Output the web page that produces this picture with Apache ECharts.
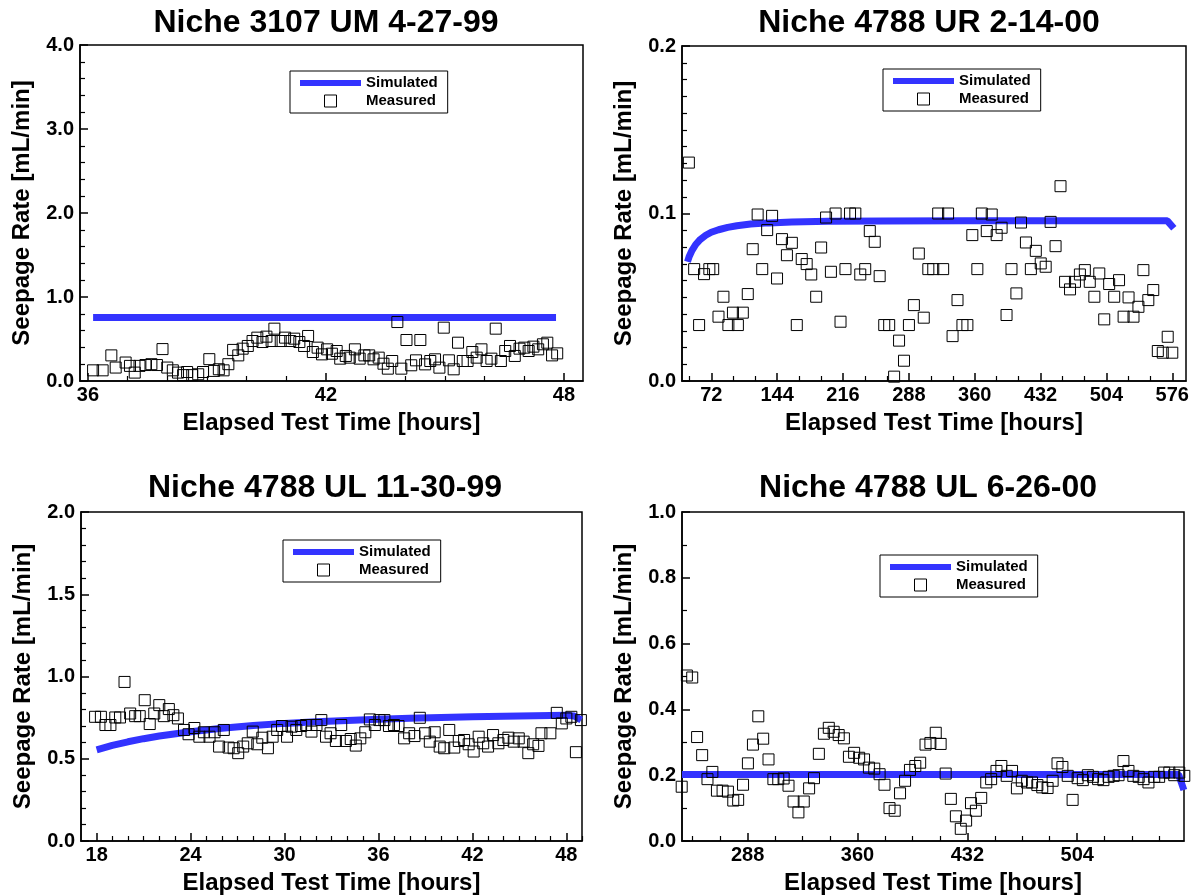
<!DOCTYPE html>
<html>
<head>
<meta charset="utf-8">
<script src="https://cdn.jsdelivr.net/npm/echarts@6/dist/echarts.min.js"></script>
<style>
html, body { margin: 0; padding: 0; background: #fff; }
#main { width: 1195px; height: 896px; }
</style>
</head>
<body>
<div id="main"></div>
<script>
// panel titles
var titles = ['Niche 3107 UM 4-27-99', 'Niche 4788 UR 2-14-00', 'Niche 4788 UL 11-30-99', 'Niche 4788 UL 6-26-00'];

// axis ranges
var xRange = [[35.8, 48.48], [40, 591], [17, 49], [245, 574]];
var yMax = [4, 0.2, 2, 1];
var yStep = [1, 0.1, 0.5, 0.2];
var yMinorSplit = [5, 10, 5, 2];

// x tick values (labelled / small)
var xMajor1 = [36, 42, 48];
var xMinor1 = [37, 38, 39, 40, 41, 43, 44, 45, 46, 47];
var xMajor2 = [72, 144, 216, 288, 360, 432, 504, 576];
var xMinor2 = [48, 96, 120, 168, 192, 240, 264, 312, 336, 384, 408, 456, 480, 528, 552];
var xMajor3 = [18, 24, 30, 36, 42, 48];
var xMinor3 = [19, 20, 21, 22, 23, 25, 26, 27, 28, 29, 31, 32, 33, 34, 35, 37, 38, 39, 40, 41, 43, 44, 45, 46, 47, 49];
var xMajor4 = [288, 360, 432, 504];
var xMinor4 = [252, 270, 306, 324, 342, 378, 396, 414, 450, 468, 486, 522, 540, 558];

// simulated seepage [hours, mL/min]
var sim1 = [[36.13, 0.755], [47.8, 0.755]];
var sim2 = [[46, 0.0712], [48, 0.0745], [51, 0.078], [55, 0.0815], [60, 0.0845], [66, 0.087], [72, 0.0888],
	[80, 0.0903], [90, 0.0917], [100, 0.0927], [115, 0.0937], [135, 0.0944], [160, 0.0949], [200, 0.0953],
	[260, 0.0955], [350, 0.0956], [450, 0.0956], [570.6, 0.0956], [577.7, 0.0912]];
var sim3 = [[18, 0.554], [19, 0.581], [20, 0.603], [21, 0.622], [22, 0.638], [24, 0.664], [26, 0.685],
	[28, 0.702], [30, 0.715], [32, 0.725], [34, 0.733], [36, 0.740], [38, 0.746], [40, 0.751], [42, 0.755],
	[44, 0.759], [46, 0.762], [48, 0.764], [48.5, 0.76], [48.95, 0.735]];
var sim4 = [[245, 0.202], [570.5, 0.202], [573.9, 0.155]];

// measured seepage [hours, mL/min]
var meas1 = [[36.13,0.127],[36.37,0.127],[36.59,0.305],[36.7,0.16],[36.95,0.22],[37.06,0.18],[37.18,0.1],
	[37.3,0.18],[37.45,0.19],[37.6,0.2],[37.74,0.19],[37.88,0.38],[38.0,0.16],[38.14,0.127],[38.27,0.1],
	[38.4,0.07],[38.5,0.107],[38.63,0.07],[38.78,0.08],[38.9,0.107],[39.06,0.26],[39.18,0.12],[39.3,0.14],
	[39.42,0.127],[39.54,0.2],[39.66,0.37],[39.79,0.305],[39.9,0.385],[40.03,0.417],[40.15,0.476],[40.27,0.516],
	[40.4,0.464],[40.5,0.528],[40.63,0.476],[40.7,0.623],[40.86,0.476],[40.97,0.516],[41.1,0.476],[41.2,0.504],
	[41.33,0.464],[41.45,0.417],[41.55,0.536],[41.67,0.345],[41.79,0.397],[41.9,0.317],[42.03,0.377],[42.15,0.325],
	[42.27,0.357],[42.36,0.266],[42.5,0.298],[42.6,0.278],[42.73,0.377],[42.85,0.266],[42.97,0.305],[43.09,0.305],
	[43.2,0.258],[43.33,0.278],[43.45,0.206],[43.56,0.147],[43.67,0.238],[43.8,0.702],[43.9,0.147],[44.03,0.488],
	[44.15,0.187],[44.27,0.246],[44.38,0.488],[44.5,0.198],[44.63,0.238],[44.75,0.258],[44.86,0.159],[44.97,0.635],
	[45.1,0.246],[45.22,0.139],[45.33,0.456],[45.45,0.238],[45.57,0.238],[45.69,0.345],[45.8,0.278],[45.92,0.377],
	[46.05,0.238],[46.17,0.266],[46.28,0.623],[46.41,0.238],[46.52,0.357],[46.64,0.417],[46.76,0.298],[46.88,0.385],
	[47.0,0.397],[47.11,0.357],[47.23,0.409],[47.35,0.377],[47.47,0.437],[47.58,0.456],[47.7,0.305],[47.83,0.329]];
var meas2 = [[47.5,0.1304],[53.3,0.0668],[58.7,0.0334],[64.1,0.0638],[69.9,0.0668],[74.1,0.0668],[79.9,0.0384],
	[85.3,0.0503],[90.7,0.0334],[95.7,0.0408],[101.1,0.0334],[106.5,0.0408],[111.9,0.0519],[117.3,0.0787],
	[122.7,0.0994],[127.7,0.0668],[133.1,0.0901],[138.5,0.0986],[143.9,0.0612],[149.3,0.0847],[154.7,0.0751],
	[160.1,0.0825],[165.5,0.0334],[170.9,0.0728],[176.3,0.0698],[181.3,0.0636],[186.7,0.0503],[192.1,0.0797],
	[197.5,0.0976],[202.8,0.0652],[207.9,0.1],[213.3,0.0354],[218.7,0.0668],[223.7,0.1],[229.5,0.1],[234.9,0.0636],
	[240.3,0.0668],[245.3,0.0895],[250.7,0.0831],[256.1,0.0626],[261.1,0.0334],[266.5,0.0334],[271.9,0.0026],
	[277.3,0.0241],[282.7,0.0121],[288.1,0.0334],[293.5,0.0453],[298.9,0.0761],[304.3,0.0378],[309.3,0.0668],
	[314.7,0.0668],[320.1,0.1],[325.5,0.0668],[330.9,0.1],[335.8,0.0268],[341.2,0.0483],[346.6,0.0334],[352.0,0.0334],
	[357.4,0.0871],[362.9,0.0668],[367.8,0.1],[373.2,0.0895],[378.6,0.0994],[384.0,0.0871],[389.4,0.0915],
	[394.8,0.0394],[400.2,0.0668],[405.6,0.0523],[410.6,0.0946],[416.0,0.0827],[421.4,0.0668],[426.8,0.0777],
	[432.2,0.0702],[437.6,0.0682],[443.0,0.095],[448.4,0.0805],[453.8,0.1163],[458.8,0.0592],[464.2,0.0547],
	[469.6,0.0592],[475.0,0.0636],[480.4,0.0662],[485.8,0.0592],[490.8,0.0503],[496.2,0.0642],[501.6,0.0368],
	[507.0,0.0579],[512.5,0.0503],[517.8,0.0602],[522.8,0.0384],[528.2,0.0499],[533.6,0.0384],[539.0,0.0443],
	[544.4,0.0662],[549.8,0.0483],[555.2,0.0543],[560.2,0.0179],[565.6,0.0169],[571.0,0.0264],[576.0,0.0169]];
var meas3 = [[17.9,0.755],[18.27,0.755],[18.56,0.705],[18.88,0.705],[19.19,0.751],[19.49,0.751],[19.78,0.967],
	[20.14,0.775],[20.46,0.759],[20.75,0.759],[21.07,0.856],[21.39,0.711],[21.68,0.775],[22.0,0.826],[22.29,0.759],
	[22.61,0.802],[22.9,0.765],[23.19,0.745],[23.58,0.675],[23.87,0.649],[24.24,0.687],[24.56,0.634],[24.85,0.661],
	[25.21,0.634],[25.53,0.661],[25.82,0.574],[26.12,0.675],[26.43,0.568],[26.75,0.564],[27.04,0.534],[27.36,0.574],
	[27.65,0.594],[27.97,0.665],[28.26,0.588],[28.58,0.628],[28.94,0.564],[29.24,0.634],[29.53,0.675],[29.84,0.699],
	[30.16,0.634],[30.45,0.695],[30.75,0.675],[31.06,0.699],[31.38,0.705],[31.72,0.665],[32.04,0.705],[32.35,0.735],
	[32.65,0.634],[32.94,0.655],[33.28,0.608],[33.62,0.705],[33.92,0.608],[34.23,0.62],[34.55,0.58],[34.84,0.624],
	[35.16,0.661],[35.45,0.739],[35.77,0.705],[36.06,0.735],[36.38,0.735],[36.67,0.699],[36.99,0.705],[37.28,0.699],
	[37.64,0.624],[37.96,0.655],[38.3,0.638],[38.64,0.749],[38.98,0.655],[39.28,0.604],[39.59,0.661],[39.91,0.574],
	[40.2,0.564],[40.52,0.675],[40.84,0.568],[41.13,0.608],[41.47,0.614],[41.76,0.588],[42.08,0.544],[42.4,0.634],
	[42.69,0.594],[43.0,0.574],[43.32,0.644],[43.66,0.594],[43.98,0.614],[44.3,0.628],[44.64,0.604],[44.96,0.624],
	[45.27,0.604],[45.57,0.534],[45.88,0.588],[46.22,0.578],[46.41,0.655],[46.98,0.655],[47.39,0.779],[47.71,0.715],
	[48.0,0.745],[48.32,0.755],[48.61,0.54],[48.93,0.735]];
var meas4 = [[244.8,0.165],[248.2,0.503],[251.7,0.497],[254.9,0.316],[258.2,0.261],[261.7,0.188],[264.9,0.21],
	[267.9,0.153],[271.6,0.153],[275.1,0.15],[278.6,0.123],[281.8,0.125],[285.0,0.171],[288.2,0.236],[291.5,0.293],
	[295.0,0.379],[298.2,0.311],[301.7,0.248],[304.9,0.188],[308.1,0.188],[311.6,0.19],[314.8,0.168],[318.1,0.12],
	[321.3,0.087],[324.8,0.12],[328.3,0.16],[331.5,0.191],[334.7,0.265],[338.0,0.326],[341.2,0.344],[344.4,0.332],
	[347.7,0.322],[351.1,0.312],[354.4,0.256],[357.8,0.268],[361.1,0.253],[364.3,0.248],[367.5,0.223],[371.0,0.22],
	[374.5,0.203],[377.7,0.171],[381.0,0.1],[384.4,0.092],[387.9,0.145],[391.2,0.183],[394.4,0.216],[397.9,0.228],
	[401.1,0.238],[404.6,0.293],[407.8,0.298],[411.3,0.329],[414.5,0.295],[417.8,0.205],[421.2,0.128],[424.5,0.075],
	[427.7,0.037],[431.2,0.062],[434.4,0.115],[437.6,0.092],[441.1,0.131],[444.4,0.178],[447.6,0.188],[451.1,0.213],
	[454.3,0.228],[457.8,0.198],[461.3,0.213],[464.5,0.16],[467.7,0.183],[471.2,0.178],[474.4,0.178],[477.9,0.17],
	[481.1,0.163],[484.6,0.161],[487.9,0.183],[491.1,0.236],[494.3,0.225],[497.8,0.198],[501.0,0.125],[504.3,0.191],
	[507.7,0.185],[511.0,0.2],[514.4,0.195],[517.7,0.188],[521.2,0.185],[524.6,0.195],[527.9,0.198],[531.1,0.2],
	[534.3,0.243],[537.6,0.213],[540.8,0.198],[544.3,0.195],[547.5,0.188],[550.7,0.178],[554.5,0.195],[557.7,0.195],
	[561.0,0.208],[564.4,0.208],[567.6,0.2],[570.9,0.208],[574.2,0.198]];

var simData = [sim1, sim2, sim3, sim4];
var measData = [meas1, meas2, meas3, meas4];
var xMajor = [xMajor1, xMajor2, xMajor3, xMajor4];
var xMinor = [xMinor1, xMinor2, xMinor3, xMinor4];

// layout of the four plot boxes (pixels)
var boxes = [
	{ left: 80, top: 45, width: 503, height: 336 },
	{ left: 682, top: 46, width: 504, height: 335 },
	{ left: 81, top: 512, width: 501, height: 332 },
	{ left: 682, top: 512, width: 502, height: 332 }
];
var titlePos = [[326, 23], [929, 23], [325, 488], [928, 488]];
var legendPos = [[290, 71], [883, 69], [283, 540], [880, 555]];

var font = '"Liberation Sans", Arial, Helvetica, sans-serif';
var blue = '#3333ff';
var black = '#000';

var grid = [], xAxis = [], yAxis = [], series = [], legend = [], graphic = [];

for (var i = 0; i < 4; i++) {
	grid.push({
		left: boxes[i].left, top: boxes[i].top, width: boxes[i].width, height: boxes[i].height,
		show: true, borderColor: black, borderWidth: 1.5, backgroundColor: 'transparent'
	});

	// x axis with labels and long ticks
	xAxis.push({
		type: 'value', gridIndex: i, position: 'bottom',
		min: xRange[i][0], max: xRange[i][1],
		axisLine: { show: true, onZero: false, lineStyle: { color: black, width: 1.5 } },
		axisTick: { show: true, inside: true, length: 8, customValues: xMajor[i], lineStyle: { color: black, width: 1.5 } },
		axisLabel: { customValues: xMajor[i], margin: 4, color: black, fontSize: 20, fontWeight: 'bold', fontFamily: font },
		splitLine: { show: false },
		name: 'Elapsed Test Time [hours]', nameLocation: 'middle', nameGap: 30,
		nameTextStyle: { color: black, fontSize: 24, fontWeight: 'bold', fontFamily: font }
	});
	// second x axis: only the short ticks
	xAxis.push({
		type: 'value', gridIndex: i, position: 'bottom',
		min: xRange[i][0], max: xRange[i][1],
		axisLine: { show: false, onZero: false },
		axisTick: { show: true, inside: true, length: 5, customValues: xMinor[i], lineStyle: { color: black, width: 1.2 } },
		axisLabel: { show: false },
		splitLine: { show: false }
	});

	yAxis.push({
		type: 'value', gridIndex: i,
		min: 0, max: yMax[i], interval: yStep[i],
		axisLine: { show: true, onZero: false, lineStyle: { color: black, width: 1.5 } },
		axisTick: { show: true, inside: true, length: 8, lineStyle: { color: black, width: 1.5 } },
		minorTick: { show: true, splitNumber: yMinorSplit[i], length: 5, lineStyle: { color: black, width: 1.2 } },
		axisLabel: {
			margin: 6, color: black, fontSize: 20, fontWeight: 'bold', fontFamily: font,
			formatter: function (v) { return v.toFixed(1); }
		},
		splitLine: { show: false },
		name: 'Seepage Rate [mL/min]', nameLocation: 'middle', nameGap: 46, nameRotate: 90,
		nameTextStyle: { color: black, fontSize: 24, fontWeight: 'bold', fontFamily: font }
	});

	series.push({
		name: 'Simulated', type: 'line',
		xAxisIndex: i * 2, yAxisIndex: i,
		data: simData[i],
		showSymbol: false, smooth: false,
		lineStyle: { color: blue, width: 7 },
		itemStyle: { color: blue },
		z: 2
	});
	series.push({
		name: 'Measured', type: 'scatter',
		xAxisIndex: i * 2, yAxisIndex: i,
		data: measData[i],
		symbol: 'rect', symbolSize: 11,
		clip: false,
		itemStyle: { color: 'transparent', borderColor: black, borderWidth: 1, opacity: 1 },
		z: 3
	});

	legend.push({
		left: legendPos[i][0], top: legendPos[i][1],
		orient: 'vertical', selectedMode: false,
		itemWidth: 61, itemHeight: 12, itemGap: 2,
		padding: [4, 10, 4, 10],
		borderColor: black, borderWidth: 1, backgroundColor: '#fff',
		textStyle: { color: black, fontSize: 15, fontWeight: 'bold', fontFamily: font, lineHeight: 16 },
		data: [
			{ name: 'Simulated', icon: 'path://M0,0L61,0L61,6L0,6Z', itemStyle: { color: blue, borderWidth: 0 } },
			{ name: 'Measured', icon: 'path://M0,0L12,0L12,12L0,12Z', itemStyle: { color: 'transparent', borderColor: black, borderWidth: 1 } }
		]
	});

	graphic.push({
		type: 'text', x: titlePos[i][0], y: titlePos[i][1],
		style: {
			text: titles[i], fill: black, align: 'center', verticalAlign: 'middle',
			font: 'bold 32px ' + font
		}
	});
}

var chart = echarts.init(document.getElementById('main'));
chart.setOption({
	backgroundColor: '#fff',
	animation: false,
	grid: grid,
	xAxis: xAxis,
	yAxis: yAxis,
	legend: legend,
	graphic: graphic,
	series: series
});
</script>
</body>
</html>
